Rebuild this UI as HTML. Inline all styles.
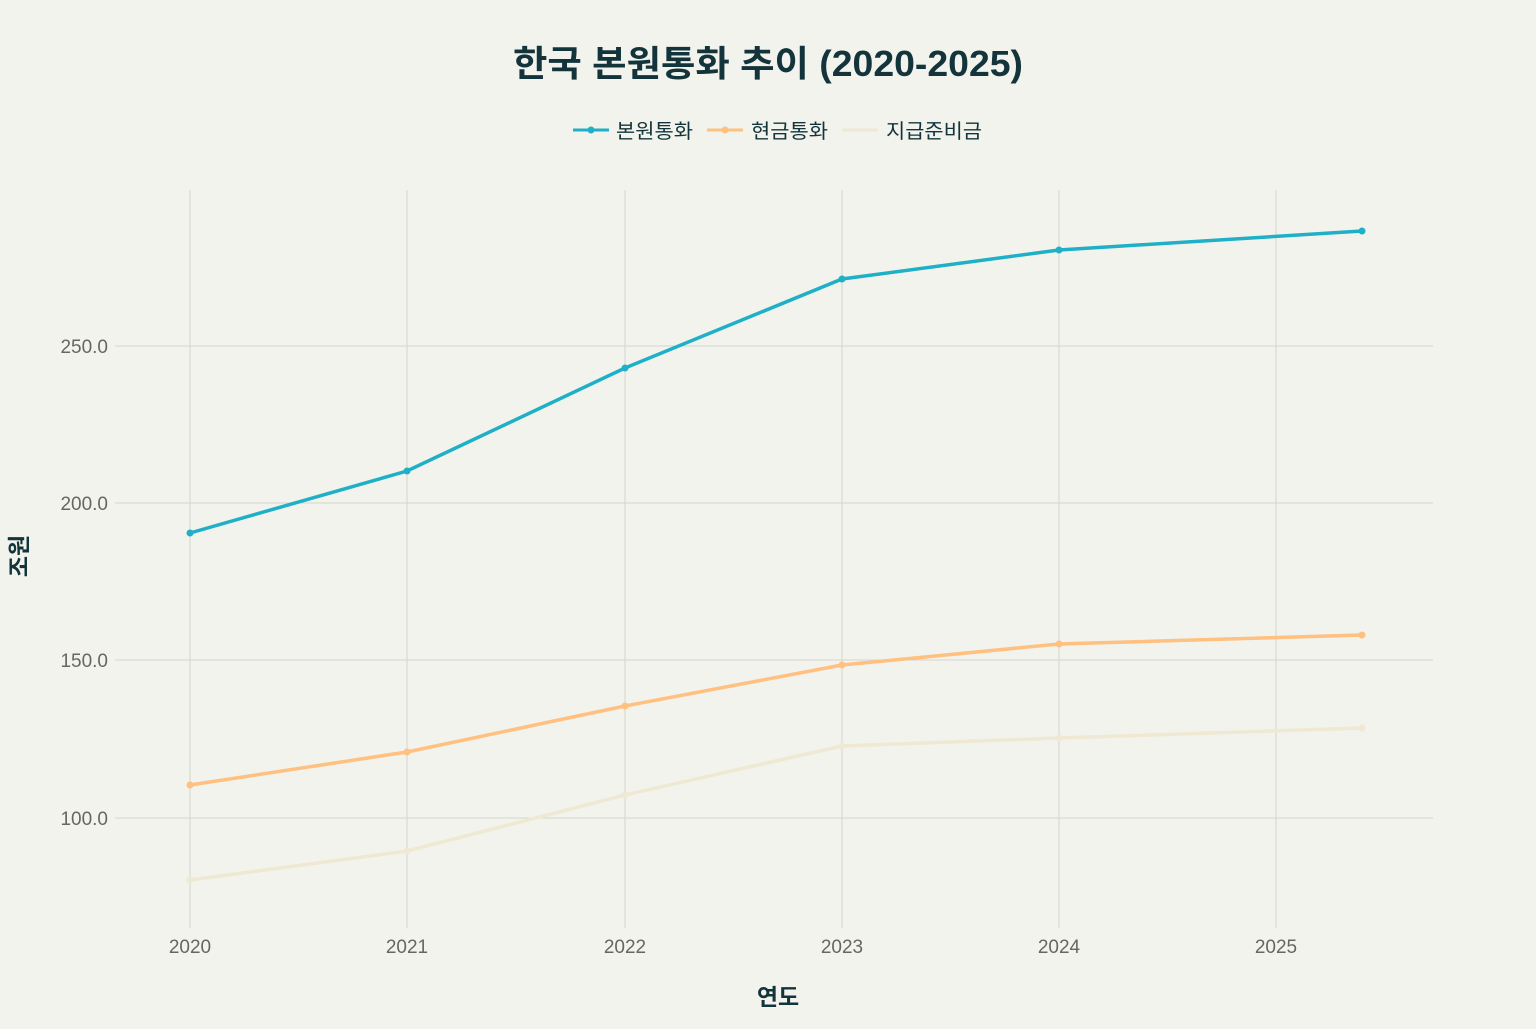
<!DOCTYPE html>
<html><head><meta charset="utf-8"><style>
html,body{margin:0;padding:0;background:#f3f3ed;}
svg text{font-family:"Liberation Sans","Noto Sans CJK KR",sans-serif;}
</style></head><body>
<svg width="1536" height="1024" xmlns="http://www.w3.org/2000/svg">
<rect width="1536" height="1024" fill="#f3f3ed"/>
<text x="768" y="76" text-anchor="middle" font-size="36" font-weight="bold" fill="#13343b" textLength="510" lengthAdjust="spacingAndGlyphs">한국 본원통화 추이 (2020-2025)</text>
<g font-size="20" fill="#13343b">
<line x1="573" y1="130" x2="609" y2="130" stroke="#1fb0c8" stroke-width="3"/><circle cx="591" cy="130" r="3.5" fill="#1fb0c8"/>
<text x="616" y="138" textLength="77" lengthAdjust="spacingAndGlyphs">본원통화</text>
<line x1="707" y1="130" x2="743" y2="130" stroke="#ffc080" stroke-width="3"/><circle cx="725" cy="130" r="3.5" fill="#ffc080"/>
<text x="751" y="138" textLength="77" lengthAdjust="spacingAndGlyphs">현금통화</text>
<line x1="842" y1="130" x2="878" y2="130" stroke="#efe8d2" stroke-width="3"/>
<text x="886" y="138" textLength="96" lengthAdjust="spacingAndGlyphs">지급준비금</text>
</g>
<g stroke="#d6d6d0" stroke-width="1">
<line x1="190" y1="190" x2="190" y2="928"/><line x1="407" y1="190" x2="407" y2="928"/><line x1="625" y1="190" x2="625" y2="928"/><line x1="842" y1="190" x2="842" y2="928"/><line x1="1059" y1="190" x2="1059" y2="928"/><line x1="1276" y1="190" x2="1276" y2="928"/>
<line x1="115" y1="346" x2="1433" y2="346"/><line x1="115" y1="503" x2="1433" y2="503"/><line x1="115" y1="660" x2="1433" y2="660"/><line x1="115" y1="818" x2="1433" y2="818"/>
</g>
<g font-size="19" fill="#666" text-anchor="end">
<text x="108" y="353">250.0</text><text x="108" y="510">200.0</text><text x="108" y="667">150.0</text><text x="108" y="825">100.0</text>
</g>
<g font-size="19" fill="#666" text-anchor="middle">
<text x="190" y="953">2020</text><text x="407" y="953">2021</text><text x="625" y="953">2022</text><text x="842" y="953">2023</text><text x="1059" y="953">2024</text><text x="1276" y="953">2025</text>
</g>
<text x="778" y="1005" text-anchor="middle" font-size="23" font-weight="bold" fill="#13343b">연도</text>
<text transform="translate(27,556) rotate(-90)" text-anchor="middle" font-size="23" font-weight="bold" fill="#13343b">조원</text>
<polyline fill="none" stroke="#efe8d2" stroke-width="3.5" points="190,880 407,851 625,795 842,746 1059,738 1362,728"/>
<g fill="#efe8d2"><circle cx="190" cy="880" r="3.5"/><circle cx="407" cy="851" r="3.5"/><circle cx="625" cy="795" r="3.5"/><circle cx="842" cy="746" r="3.5"/><circle cx="1059" cy="738" r="3.5"/><circle cx="1362" cy="728" r="3.5"/></g>
<polyline fill="none" stroke="#ffc080" stroke-width="3.5" points="190,785 407,752 625,706 842,665 1059,644 1362,635"/>
<g fill="#ffc080"><circle cx="190" cy="785" r="3.5"/><circle cx="407" cy="752" r="3.5"/><circle cx="625" cy="706" r="3.5"/><circle cx="842" cy="665" r="3.5"/><circle cx="1059" cy="644" r="3.5"/><circle cx="1362" cy="635" r="3.5"/></g>
<polyline fill="none" stroke="#1fb0c8" stroke-width="3.5" points="190,533 407,471 625,368 842,279 1059,250 1362,231"/>
<g fill="#1fb0c8"><circle cx="190" cy="533" r="3.5"/><circle cx="407" cy="471" r="3.5"/><circle cx="625" cy="368" r="3.5"/><circle cx="842" cy="279" r="3.5"/><circle cx="1059" cy="250" r="3.5"/><circle cx="1362" cy="231" r="3.5"/></g>
</svg>
</body></html>
